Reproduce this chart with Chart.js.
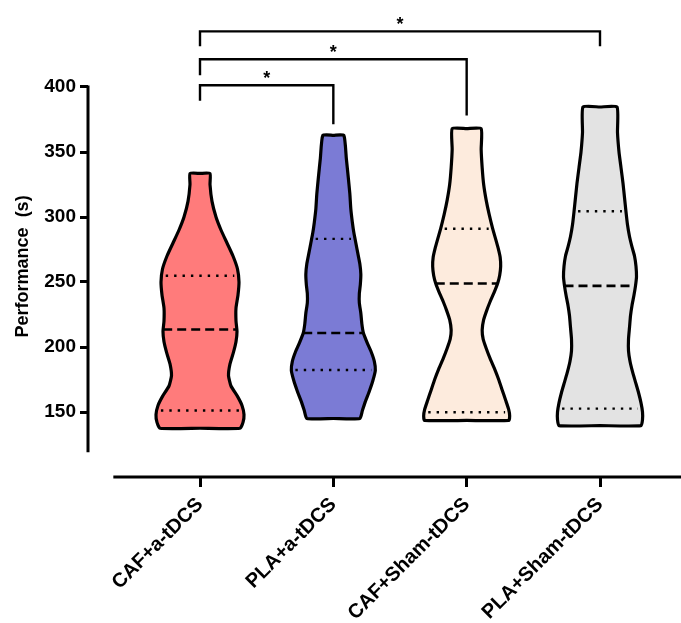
<!DOCTYPE html>
<html>
<head>
<meta charset="utf-8">
<script src="https://cdn.jsdelivr.net/npm/chart.js@4.4.1/dist/chart.umd.min.js"></script>
<style>
  html, body { margin: 0; padding: 0; background: #fff; }
</style>
</head>
<body>
<canvas id="violinChart" width="681" height="623"></canvas>
<script>
const groups = ['CAF+a-tDCS', 'PLA+a-tDCS', 'CAF+Sham-tDCS', 'PLA+Sham-tDCS'];
const fillColors = ['#FF7B7B', '#7B7BD5', '#FDEBDD', '#E3E3E3'];

const medians = [213.5, 210.8, 248.8, 247.0];
const lowerQuartiles = [151.2, 182.3, 149.8, 152.6];
const upperQuartiles = [254.8, 283.2, 291.0, 304.4];

const yTicks = [150, 200, 250, 300, 350, 400];

// violin outlines: [value, density] from top (max) to bottom (min)
const densityCAFa = [
  [333.5, 10], [325, 10], [312, 12], [300, 16], [290, 21], [280, 27], [270, 33],
  [260, 37.5], [250, 39], [240, 38], [230, 36], [220, 36], [212, 37], [204, 36],
  [196, 33.5], [187, 30], [178, 28.5], [170, 31], [162, 37.5], [155, 42], [148, 44],
  [142, 43], [137.5, 40]
];
const densityPLAa = [
  [362.8, 10.5], [345, 13], [330, 15], [318, 16.5], [306, 17.5], [296, 19], [288, 20.5],
  [280, 22.5], [272, 24.5], [264, 26.5], [256, 27.5], [248, 27], [241, 26], [234, 26],
  [226, 27.5], [218, 28.5], [211, 30], [203, 34], [196, 38], [189, 41], [182, 42],
  [174, 39.5], [166, 36], [158, 32], [151, 29], [145, 26.5]
];
const densityCAFsham = [
  [368, 14.5], [352, 14.5], [338, 15.5], [325, 17], [313, 19.5], [302, 22.5], [291, 26],
  [283, 29], [276, 31.5], [269, 33.5], [262, 34], [255, 33], [249, 31], [242, 27.5],
  [235, 23.5], [228, 20], [221, 17], [213, 15.5], [206, 16.5], [199, 19.5], [191, 23.5],
  [183, 28], [175, 32], [167, 35.5], [159, 39], [152, 42], [147, 43], [143.5, 42]
];
const densityPLAsham = [
  [384.6, 17], [365, 17.5], [350, 19], [338, 21], [326, 23], [315, 24.5], [304, 26],
  [294, 27.5], [285, 29.5], [277, 32], [270, 34.5], [262, 36], [254, 36.5], [247, 35.5],
  [240, 34], [232, 32], [224, 30.5], [215, 29.5], [206, 28.5], [197, 28.5], [189, 30],
  [181, 32.5], [173, 35.5], [165, 38.5], [157, 41], [150, 42.5], [144, 42.5], [139.5, 41]
];
const densities = [densityCAFa, densityPLAa, densityCAFsham, densityPLAsham];

// significance brackets (group index from / to, 1-based)
const bracketFrom = [1, 1, 1];
const bracketTo = [2, 3, 4];
const bracketTop = [401.3, 421.3, 442.8];
const bracketLeftEnd = [389.5, 409, 431.3];
const bracketRightEnd = [371.3, 378, 431.3];
const bracketLabels = ['*', '*', '*'];

const FONT = 'Arial, "Liberation Sans", sans-serif';
const WIDTH_SCALE = 0.0075; // density -> x-axis units

function widthAt(profile, v) {
  for (let i = 0; i < profile.length - 1; i++) {
    const [v0, w0] = profile[i];
    const [v1, w1] = profile[i + 1];
    if (v <= v0 && v >= v1) return w0 + (w1 - w0) * (v0 - v) / (v0 - v1);
  }
  return profile[profile.length - 1][1];
}

const datasets = [];

// violin bodies
densities.forEach((profile, i) => {
  const c = i + 1;
  const top = profile[0][0];
  const bottom = profile[profile.length - 1][0];
  const pts = [{ x: c, y: top }];
  profile.forEach(([v, w]) => pts.push({ x: c + w * WIDTH_SCALE, y: v }));
  pts.push({ x: c, y: bottom });
  profile.slice().reverse().forEach(([v, w]) => pts.push({ x: c - w * WIDTH_SCALE, y: v }));
  pts.push({ x: c, y: top });
  datasets.push({
    data: pts,
    borderColor: '#000',
    borderWidth: 3.2,
    borderJoinStyle: 'round',
    backgroundColor: fillColors[i],
    fill: 'shape',
    tension: 0.16,
    pointRadius: 0,
    order: 3
  });
});

// median (dashed) and quartiles (dotted)
densities.forEach((profile, i) => {
  const c = i + 1;
  const wm = widthAt(profile, medians[i]) * WIDTH_SCALE;
  datasets.push({
    data: [{ x: c - wm, y: medians[i] }, { x: c + wm, y: medians[i] }],
    borderColor: '#000', borderWidth: 2.6, borderDash: [9, 5], pointRadius: 0, order: 2
  });
  [lowerQuartiles[i], upperQuartiles[i]].forEach(q => {
    const wq = (widthAt(profile, q) - 4) * WIDTH_SCALE;
    datasets.push({
      data: [{ x: c - wq, y: q }, { x: c + wq, y: q }],
      borderColor: '#000', borderWidth: 2.4, borderDash: [2.4, 6], pointRadius: 0, order: 2
    });
  });
});

// brackets
bracketFrom.forEach((from, i) => {
  datasets.push({
    data: [
      { x: from, y: bracketLeftEnd[i] }, { x: from, y: bracketTop[i] },
      { x: bracketTo[i], y: bracketTop[i] }, { x: bracketTo[i], y: bracketRightEnd[i] }
    ],
    borderColor: '#000', borderWidth: 2.4, pointRadius: 0, tension: 0, order: 1
  });
});

const extras = {
  id: 'extras',
  afterDraw(chart) {
    const { ctx, scales: { x, y }, chartArea } = chart;
    ctx.save();
    ctx.strokeStyle = '#000';
    ctx.lineWidth = 3;
    ctx.lineCap = 'butt';
    // offset axis lines
    ctx.beginPath();
    ctx.moveTo(chartArea.left, y.getPixelForValue(119));
    ctx.lineTo(chartArea.left, y.getPixelForValue(400) - 1.5);
    ctx.stroke();
    ctx.beginPath();
    ctx.moveTo(x.getPixelForValue(0.35), chartArea.bottom);
    ctx.lineTo(chartArea.right, chartArea.bottom);
    ctx.stroke();
    // y title
    ctx.fillStyle = '#000';
    ctx.font = 'bold 18px ' + FONT;
    ctx.textAlign = 'center';
    ctx.textBaseline = 'middle';
    ctx.translate(23, y.getPixelForValue(262));
    ctx.rotate(-Math.PI / 2);
    ctx.fillText('Performance  (s)', 0, 0);
    ctx.restore();
    // stars
    ctx.save();
    ctx.fillStyle = '#000';
    ctx.font = 'bold 18px ' + FONT;
    ctx.textAlign = 'center';
    ctx.textBaseline = 'alphabetic';
    bracketLabels.forEach((s, i) => {
      const cx = x.getPixelForValue((bracketFrom[i] + bracketTo[i]) / 2);
      ctx.fillText(s, cx, y.getPixelForValue(bracketTop[i]) - 1);
    });
    ctx.restore();
  }
};

new Chart(document.getElementById('violinChart'), {
  type: 'line',
  data: { datasets },
  options: {
    responsive: false,
    animation: false,
    layout: { padding: { top: 9, left: 0, right: 0, bottom: 0 } },
    plugins: { legend: { display: false }, tooltip: { enabled: false } },
    scales: {
      x: {
        type: 'linear',
        min: 0.16,
        max: 4.6075,
        afterBuildTicks: s => { s.ticks = groups.map((g, i) => ({ value: i + 1 })); },
        afterFit: s => { s.height = 146; s.paddingLeft = 0; s.paddingRight = 0; },
        border: { display: false },
        grid: { drawOnChartArea: false, drawTicks: true, tickLength: 10, lineWidth: 3, color: '#000' },
        ticks: {
          autoSkip: false,
          minRotation: 45,
          maxRotation: 45,
          padding: 6,
          color: '#000',
          font: { family: FONT, size: 20, weight: 'bold' },
          callback: v => groups[v - 1] || ''
        }
      },
      y: {
        type: 'linear',
        min: 100,
        max: 460,
        afterBuildTicks: s => { s.ticks = yTicks.map(v => ({ value: v })); },
        afterFit: s => { s.width = 88; s.paddingTop = 0; s.paddingBottom = 0; },
        border: { display: false },
        grid: { drawOnChartArea: false, drawTicks: true, tickLength: 8, lineWidth: 3, color: '#000' },
        ticks: {
          padding: 4,
          color: '#000',
          font: { family: FONT, size: 19, weight: 'bold' }
        }
      }
    }
  },
  plugins: [extras]
});
</script>
</body>
</html>
